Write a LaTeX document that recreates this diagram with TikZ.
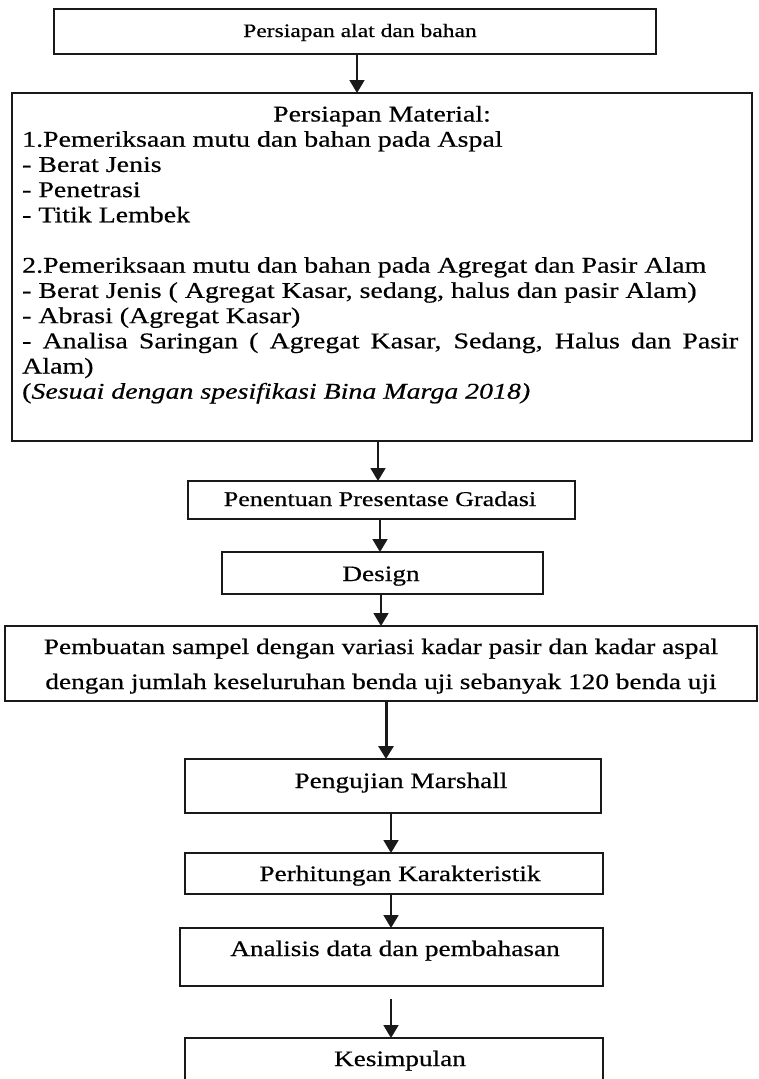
\documentclass[tikz,border=0pt]{standalone}
\usepackage{fontspec}
\setmainfont[FakeStretch=1.24,FakeBold=0.5]{Liberation Serif}
\usetikzlibrary{arrows.meta}
\begin{document}
\begin{tikzpicture}[x=1pt,y=-1pt,
  box/.style={draw=black!90,line width=1.6pt,inner sep=0pt,outer sep=0pt},
  txt/.style={inner sep=0pt,font=\fontsize{22}{25}\selectfont,anchor=base},
  ltxt/.style={inner sep=0pt,font=\fontsize{22.5}{25}\selectfont,anchor=base west},
  arr/.style={line width=1.8pt,draw=black!90,-{Triangle[width=15pt,length=13pt]}},
  thickarr/.style={arr,line width=3pt}]
\useasboundingbox (0,0) rectangle (759,1079);
\clip (0,0) rectangle (759,1079);
% boxes
\node[box,minimum width=602pt,minimum height=45pt] (b1) at (355,31.5) {};
\node[box,minimum width=740pt,minimum height=348pt] (b2) at (382,267) {};
\node[box,minimum width=387pt,minimum height=38pt] (b3) at (381.5,500) {};
\node[box,minimum width=321pt,minimum height=42pt] (b4) at (382.5,573) {};
\node[box,minimum width=752pt,minimum height=75pt] (b5) at (381,663.5) {};
\node[box,minimum width=416pt,minimum height=54pt] (b6) at (393,786) {};
\node[box,minimum width=418pt,minimum height=41pt] (b7) at (394,873.5) {};
\node[box,minimum width=423pt,minimum height=58pt] (b8) at (391.5,957) {};
\node[box,minimum width=418pt,minimum height=80pt] (b9) at (394,1078) {};
% texts
\node[txt,font=\fontsize{19}{22}\selectfont] (t1) at (360,37) {Persiapan alat dan bahan};
\node[txt,font=\fontsize{22.5}{25}\selectfont] (t2a) at (382,121.5) {Persiapan Material:};
\node[ltxt] (t2b) at (22,146.7) {1.Pemeriksaan mutu dan bahan pada Aspal};
\node[ltxt] (t2c) at (22,171.9) {- Berat Jenis};
\node[ltxt] (t2d) at (22,197.1) {- Penetrasi};
\node[ltxt] (t2e) at (22,222.3) {- Titik Lembek};
\node[ltxt] (t2f) at (22,272.7) {2.Pemeriksaan mutu dan bahan pada Agregat dan Pasir Alam};
\node[ltxt] (t2g) at (22,297.9) {- Berat Jenis ( Agregat Kasar, sedang, halus dan pasir Alam)};
\node[ltxt] (t2h) at (22,323.1) {- Abrasi (Agregat Kasar)};
\node[ltxt] (t2i) at (22,348.3) {\makebox[716pt][s]{- Analisa Saringan ( Agregat Kasar, Sedang, Halus dan Pasir}};
\node[ltxt] (t2j) at (22,373.5) {Alam)};
\node[ltxt] (t2k) at (22,398.7) {(\textit{Sesuai dengan spesifikasi Bina Marga 2018)}};
\node[txt,font=\fontsize{21}{24}\selectfont] (t3) at (380,506) {Penentuan Presentase Gradasi};
\node[txt] (t4) at (381,581) {Design};
\node[txt] (t5a) at (381,654) {Pembuatan sampel dengan variasi kadar pasir dan kadar aspal};
\node[txt] (t5b) at (381,689) {dengan jumlah keseluruhan benda uji sebanyak 120 benda uji};
\node[txt] (t6) at (401,788) {Pengujian Marshall};
\node[txt] (t7) at (400,881) {Perhitungan Karakteristik};
\node[txt] (t8) at (395,956) {Analisis data dan pembahasan};
\node[txt] (t9) at (400,1066) {Kesimpulan};
% connectors
\coordinate (xa1) at (357,0);
\coordinate (xa2) at (378,0);
\coordinate (xa3) at (380,0);
\coordinate (xa4) at (381,0);
\coordinate (xa5) at (386,0);
\coordinate (xa6) at (391,0);
\coordinate (s8) at (391,999);
\draw[arr] (b1.south -| xa1) -- (b2.north -| xa1);
\draw[arr] (b2.south -| xa2) -- (b3.north -| xa2);
\draw[arr] (b3.south -| xa3) -- (b4.north -| xa3);
\draw[arr] (b4.south -| xa4) -- (b5.north -| xa4);
\draw[thickarr] (b5.south -| xa5) -- (b6.north -| xa5);
\draw[arr] (b6.south -| xa6) -- (b7.north -| xa6);
\draw[arr] (b7.south -| xa6) -- (b8.north -| xa6);
\draw[arr] (s8) -- (b9.north -| s8);
\end{tikzpicture}
\end{document}
